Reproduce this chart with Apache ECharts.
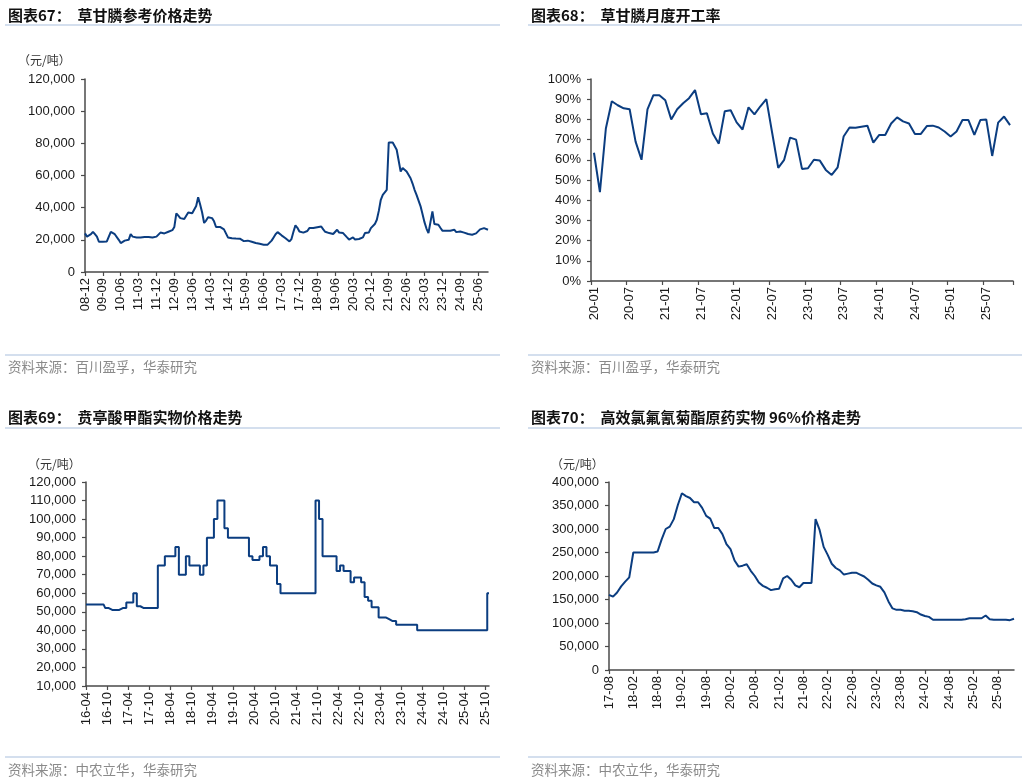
<!DOCTYPE html>
<html><head><meta charset="utf-8">
<script src="https://cdn.jsdelivr.net/npm/echarts@6/dist/echarts.min.js"></script>
<style>html,body{margin:0;padding:0;background:#fff}#c{width:1030px;height:782px}</style>
</head><body><div id="c"></div>
<script>
// ---- category builders (month labels YY-MM) ----
function monthLabels(y, m, n) {
  var out = [];
  for (var i = 0; i < n; i++) {
    var yy = y + Math.floor((m - 1 + i) / 12);
    var mm = (m - 1 + i) % 12 + 1;
    out.push(String(yy % 100).padStart(2, '0') + '-' + String(mm).padStart(2, '0'));
  }
  return out;
}

// ---- Panel 67: glyphosate reference price (元/吨), monthly 08-12 .. 25-11 ----
var glyphPrice = [24000,22000,21500,23500,25000,23500,22000,18800,19500,18800,19200,19000,19500,25000,24000,23500,22500,20000,18000,19000,
19500,19500,20000,23500,22000,21500,21500,21800,21500,22000,21800,21500,21800,21500,21500,21000,22000,23000,24500,24000,
24000,24000,25000,25000,26000,28000,36500,35000,33500,33000,33000,33000,37000,38000,36500,35500,41000,46500,42000,37000,
30500,32000,34000,35200,33500,31500,28000,27500,28000,27500,26500,24000,21500,21000,21000,21000,20800,20500,20700,19500,
19200,19200,19500,19000,18800,18300,18000,17800,17500,17200,17000,17000,17000,18000,19500,21500,23500,24800,23800,22800,
22000,21000,20000,19000,20500,25000,29000,27500,25200,24800,24500,24200,25500,27300,27200,27300,27300,27800,28000,28300,
26500,25000,24500,24200,24000,23600,23600,26300,24500,24200,24200,24000,21500,20200,21000,21500,20200,20300,20500,20700,
21500,24200,24400,24600,27300,28000,29800,32500,38000,44900,48000,49500,51100,80500,80500,80500,80500,76000,75300,62500,
64600,63800,62500,61500,58300,55000,51100,48000,47500,41000,36000,31000,27000,24200,25200,37700,29800,29600,29400,27500,
25700,25700,25700,25700,25700,26000,26300,24800,25000,25200,25200,24500,23800,23600,23400,23200,23200,24000,25200,26500,
27300,27300,26800,26300];
var glyphMonths = monthLabels(2008, 12, glyphPrice.length);

// ---- Panel 68: glyphosate monthly operating rate (%), 20-01 .. 25-11 ----
var glyphRate = [63.5,44,75.5,89,87,85.5,85,69,60,85,92,92,89.5,80,85,88,90.5,94.5,82.5,83,
73,68,84,84.5,78.5,75,86,82.5,86.5,90,73,56,60,71,70,55.5,55.8,60,59.6,55,
52.5,56.3,71.5,76,75.9,76.4,76.9,68.5,72.3,72.3,78,81,79,78,72.8,72.8,76.7,76.9,76,74,
71.5,74,79.7,79.7,72.3,79.7,80,61.9,78.4,81.4,77.2];
var rateMonths = monthLabels(2020, 1, glyphRate.length);

// ---- Panel 69: 贲亭酸甲酯 price (元/吨), monthly 16-04 .. 25-11 ----
var bentingPrice = [54000,54000,54000,54000,54000,54000,52000,51000,51000,51000,
52000,52000,55000,55000,60000,53000,52000,52000,52000,52000,
52000,75000,75000,80000,80000,80000,85000,70000,70000,80000,
75000,75000,75000,70000,75000,90000,90000,100000,110000,110000,
95000,90000,90000,90000,90000,90000,90000,80000,78000,78000,
80000,85000,80000,75000,75000,65000,60000,60000,60000,60000,
60000,60000,60000,60000,60000,60000,110000,100000,80000,80000,
80000,80000,72000,75000,72000,72000,66000,68500,68500,66000,
58000,56000,52500,52500,47000,47000,46000,45000,45000,43000,
43000,43000,43000,43000,43000,40000,40000,40000,40000,40000,
40000,40000,40000,40000,40000,40000,40000,40000,40000,40000,
40000,40000,40000,40000,40000,60000];
var bentingMonths = monthLabels(2016, 4, bentingPrice.length);

// ---- Panel 70: lambda-cyhalothrin 96% price (元/吨), monthly 17-08 .. 25-12 ----
var lambdaPrice = [160000,156000,165000,178000,188000,197000,250000,250000,250000,250000,
250000,250000,252000,278000,300000,305000,321000,351000,376000,370000,
366000,357000,357000,345000,328000,322000,302000,302000,289000,268000,
257000,233000,220000,222000,225000,211000,200000,186000,179000,175000,
170000,172000,173000,195000,200000,192000,180000,176000,185000,185000,
185000,321000,298000,262000,245000,226000,217000,212000,203000,205000,
207000,207000,203000,199000,192000,184000,180000,177000,165000,146000,
131000,128000,128000,126000,126000,125000,123000,118000,115000,113000,
107000,107000,107000,107000,107000,107000,107000,107000,108000,110000,
110000,110000,110000,116000,108000,107000,107000,107000,107000,106000,
109000];
var lambdaMonths = monthLabels(2017, 8, lambdaPrice.length);

// ---- styling ----
var LINE = '#0b3d80';
var AX = '#4a4a4a';
var FONT = '"Liberation Sans", Arial, sans-serif';
var CJK = '"Noto Sans CJK SC", sans-serif';

function fmtThousands(v) { return v.toLocaleString('en-US'); }

function xAxisCfg(idx, data, interval, boundaryGap) {
  return {
    type: 'category', gridIndex: idx, data: data, boundaryGap: boundaryGap,
    axisLine: { show: true, lineStyle: { color: AX, width: 1.5 } },
    axisTick: { show: true, interval: interval, length: 4, lineStyle: { color: AX, width: 1.2 } },
    axisLabel: { interval: interval, rotate: 90, margin: 6, fontSize: 13, color: '#1a1a1a', fontFamily: FONT },
    splitLine: { show: false }
  };
}
function yAxisCfg(idx, min, max, interval, fmt) {
  return {
    type: 'value', gridIndex: idx, min: min, max: max, interval: interval,
    axisLine: { show: true, lineStyle: { color: AX, width: 1.5 } },
    axisTick: { show: true, length: 4, lineStyle: { color: AX, width: 1.2 } },
    axisLabel: { fontSize: 13, color: '#1a1a1a', fontFamily: FONT, margin: 10, formatter: fmt },
    splitLine: { show: false }
  };
}

function txt(x, y, s, font, fill) {
  return { type: 'text', silent: true, style: { x: x, y: y, text: s, font: font, fill: fill,
    verticalAlign: 'middle', textVerticalAlign: 'middle', align: 'left', textAlign: 'left' } };
}
function hline(x1, x2, y, color) {
  return { type: 'line', silent: true, shape: { x1: x1, y1: y, x2: x2, y2: y }, style: { stroke: color, lineWidth: 1.2 } };
}

var TITLE_FONT = 'bold 15px ' + CJK;
var SRC_FONT = '13.5px ' + CJK;
var UNIT_FONT = '12px ' + CJK;
var RULE = '#a9c0dd';
var SRC = '#8a8a8a';

var chart = echarts.init(document.getElementById('c'), null, { renderer: 'canvas' });
chart.setOption({
  animation: false,
  backgroundColor: '#ffffff',
  grid: [
    { left: 85, top: 79, width: 403, height: 193 },
    { left: 591, top: 79, width: 422, height: 202 },
    { left: 86, top: 482, width: 403, height: 204 },
    { left: 609, top: 482, width: 405, height: 188 }
  ],
  xAxis: [
    xAxisCfg(0, glyphMonths, 8, false),
    xAxisCfg(1, rateMonths, 5, true),
    xAxisCfg(2, bentingMonths, 5, false),
    xAxisCfg(3, lambdaMonths, 5, false)
  ],
  yAxis: [
    yAxisCfg(0, 0, 120000, 20000, fmtThousands),
    yAxisCfg(1, 0, 100, 10, '{value}%'),
    yAxisCfg(2, 10000, 120000, 10000, fmtThousands),
    yAxisCfg(3, 0, 400000, 50000, fmtThousands)
  ],
  series: [
    { type: 'line', xAxisIndex: 0, yAxisIndex: 0, data: glyphPrice, showSymbol: false, lineStyle: { color: LINE, width: 2 } },
    { type: 'line', xAxisIndex: 1, yAxisIndex: 1, data: glyphRate, showSymbol: false, lineStyle: { color: LINE, width: 2 } },
    { type: 'line', xAxisIndex: 2, yAxisIndex: 2, data: bentingPrice, step: 'middle', showSymbol: false, lineStyle: { color: LINE, width: 2 } },
    { type: 'line', xAxisIndex: 3, yAxisIndex: 3, data: lambdaPrice, showSymbol: false, lineStyle: { color: LINE, width: 2 } }
  ],
  graphic: [
    txt(8, 15, '图表67：  草甘膦参考价格走势', TITLE_FONT, '#111'),
    hline(5, 500, 25, RULE),
    txt(531, 15, '图表68：  草甘膦月度开工率', TITLE_FONT, '#111'),
    hline(528, 1022, 25, RULE),
    txt(8, 417, '图表69：  贲亭酸甲酯实物价格走势', TITLE_FONT, '#111'),
    hline(5, 500, 428, RULE),
    txt(531, 417, '图表70：  高效氯氟氰菊酯原药实物 96%价格走势', TITLE_FONT, '#111'),
    hline(528, 1022, 428, RULE),
    txt(18, 60, '（元/吨）', UNIT_FONT, '#333'),
    txt(28, 464, '（元/吨）', UNIT_FONT, '#333'),
    txt(551, 464, '（元/吨）', UNIT_FONT, '#333'),
    hline(5, 500, 355, RULE),
    txt(8, 367, '资料来源：百川盈孚，华泰研究', SRC_FONT, SRC),
    hline(528, 1022, 355, RULE),
    txt(531, 367, '资料来源：百川盈孚，华泰研究', SRC_FONT, SRC),
    hline(5, 500, 757, RULE),
    txt(8, 770, '资料来源：中农立华，华泰研究', SRC_FONT, SRC),
    hline(528, 1022, 757, RULE),
    txt(531, 770, '资料来源：中农立华，华泰研究', SRC_FONT, SRC)
  ]
});
</script></body></html>
